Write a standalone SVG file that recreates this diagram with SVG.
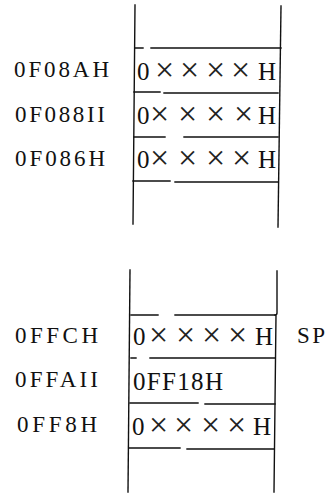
<svg xmlns="http://www.w3.org/2000/svg" width="326" height="494" viewBox="0 0 326 494">
<style>
.ln{stroke:#111;stroke-width:1.4;fill:none;stroke-linecap:square}
.lb{font-family:"Liberation Serif","Times New Roman",serif;font-size:23px;fill:#111}
.cl{font-family:"Liberation Serif","Times New Roman",serif;font-size:25px;fill:#111}
.x{font-family:"Liberation Serif","Times New Roman",serif;font-size:34px;fill:#222}
</style>
<rect width="326" height="494" fill="#fff"/>
<g id="stack-top">
  <path class="ln" d="M135,5 L133,224"/>
  <path class="ln" d="M281,6 L278,227"/>
  <path class="ln" d="M135,48 H143 M151,48 H281"/>
  <path class="ln" d="M134,92 H160 M164,93 H278"/>
  <path class="ln" d="M134,137 H165 M184,137 H278"/>
  <path class="ln" d="M133,181 H170 M175,182 H278"/>
</g>
<g id="cell-0F08AH">
  <text class="lb" x="14" y="77" textLength="95" lengthAdjust="spacing">0F08AH</text>
  <text class="cl" x="137" y="80">0</text>
  <text class="x" x="155" y="81">×</text>
  <text class="x" x="180" y="81">×</text>
  <text class="x" x="206" y="81">×</text>
  <text class="x" x="231" y="81">×</text>
  <text class="cl" x="258" y="80">H</text>
</g>
<g id="cell-0F088H">
  <text class="lb" x="15" y="122" textLength="90" lengthAdjust="spacing">0F088II</text>
  <text class="cl" x="137" y="124">0</text>
  <text class="x" x="150" y="125">×</text>
  <text class="x" x="178" y="125">×</text>
  <text class="x" x="206" y="125">×</text>
  <text class="x" x="234" y="125">×</text>
  <text class="cl" x="258" y="124">H</text>
</g>
<g id="cell-0F086H">
  <text class="lb" x="15" y="166" textLength="90" lengthAdjust="spacing">0F086H</text>
  <text class="cl" x="137" y="168">0</text>
  <text class="x" x="150" y="169">×</text>
  <text class="x" x="178" y="169">×</text>
  <text class="x" x="206" y="169">×</text>
  <text class="x" x="232" y="169">×</text>
  <text class="cl" x="258" y="168">H</text>
</g>
<g id="stack-bottom">
  <path class="ln" d="M130,270 L128,492"/>
  <path class="ln" d="M277,271 V313 Q277,315 275,315 M276,315 L274,492"/>
  <path class="ln" d="M131,315 H158 M175,315 H275"/>
  <path class="ln" d="M131,358 H136 M150,358 H275"/>
  <path class="ln" d="M130,403 H198 M205,404 H275"/>
  <path class="ln" d="M129,448 H180 M187,449 H274"/>
</g>
<g id="cell-0FFCH">
  <text class="lb" x="15" y="343" textLength="83" lengthAdjust="spacing">0FFCH</text>
  <text class="cl" x="133" y="345">0</text>
  <text class="x" x="149" y="346">×</text>
  <text class="x" x="176" y="346">×</text>
  <text class="x" x="202" y="346">×</text>
  <text class="x" x="228" y="346">×</text>
  <text class="cl" x="255" y="345">H</text>
  <text class="lb" x="297" y="343" textLength="28" lengthAdjust="spacing">SP</text>
</g>
<g id="cell-0FFAH">
  <text class="lb" x="15" y="387" textLength="83" lengthAdjust="spacing">0FFAII</text>
  <text class="cl" x="133" y="390" textLength="90" lengthAdjust="spacing">0FF18H</text>
</g>
<g id="cell-0FF8H">
  <text class="lb" x="17" y="432" textLength="80" lengthAdjust="spacing">0FF8H</text>
  <text class="cl" x="132" y="435">0</text>
  <text class="x" x="149" y="436">×</text>
  <text class="x" x="174" y="436">×</text>
  <text class="x" x="201" y="436">×</text>
  <text class="x" x="227" y="436">×</text>
  <text class="cl" x="253" y="435">H</text>
</g>
<g id="connectors"></g>
</svg>
